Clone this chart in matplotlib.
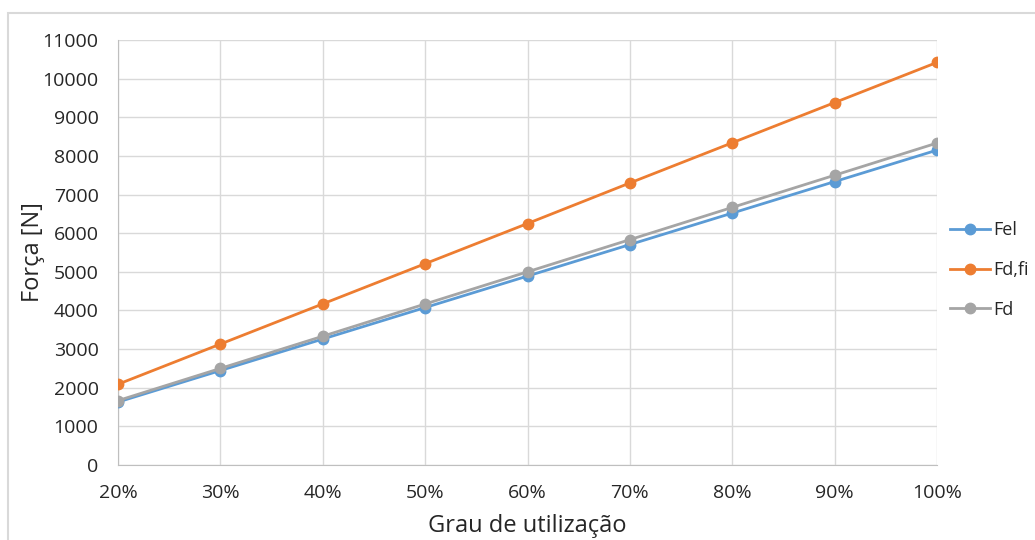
import matplotlib
matplotlib.use('Agg')
import matplotlib.pyplot as plt
from matplotlib.patches import Rectangle

# dados
grau = ['20%', '30%', '40%', '50%', '60%', '70%', '80%', '90%', '100%']
fel = [1630, 2445, 3260, 4075, 4890, 5705, 6520, 7335, 8150]
fd_fi = [2090, 3130, 4170, 5210, 6250, 7300, 8340, 9380, 10420]
fd = [1667, 2500, 3333, 4167, 5000, 5833, 6667, 7500, 8333]

plt.rcParams['font.family'] = ['Open Sans', 'DejaVu Sans']

fig = plt.figure(figsize=(10.35, 5.4), dpi=100)
ax = fig.add_axes([118 / 1035, 1 - 465 / 540, (937 - 118) / 1035, (465 - 40) / 540])

# moldura do grafico (estilo excel)
fig.patches.append(Rectangle((8 / 1035, -0.1), 1.1, 1 - 13 / 540 + 0.1, transform=fig.transFigure,
                             fill=False, edgecolor='#D9D9D9', linewidth=1.5, zorder=0))

x = list(range(len(grau)))
ax.plot(x, fel, color='#5B9BD5', marker='o', markersize=7.5, linewidth=2, label='Fel', zorder=3)
ax.plot(x, fd_fi, color='#ED7D31', marker='o', markersize=7.5, linewidth=2, label='Fd,fi', zorder=3)
ax.plot(x, fd, color='#A5A5A5', marker='o', markersize=7.5, linewidth=2, label='Fd', zorder=3)

ax.set_xlim(0, len(grau) - 1)
ax.set_ylim(0, 11000)
ax.set_yticks(range(0, 11001, 1000))
ax.set_xticks(x)
ax.set_xticklabels(grau)
ax.grid(True, color='#D9D9D9', linewidth=1)
ax.set_axisbelow(True)
ax.tick_params(length=0, labelsize=14, colors='#262626', pad=14)
for s in ['top', 'right']:
    ax.spines[s].set_visible(False)
for s in ['left', 'bottom']:
    ax.spines[s].set_color('#BFBFBF')

ax.set_xlabel('Grau de utilização', fontsize=17, color='#262626', va='top')
ax.set_ylabel('Força [N]', fontsize=17, color='#262626')
ax.xaxis.set_label_coords(0.5, -0.115)
ax.yaxis.set_label_coords(-0.089, 0.5)

fig.legend(loc='center left', bbox_to_anchor=(950 / 1035, 1 - 270 / 540), frameon=False,
           fontsize=13, handlelength=2.2, handletextpad=0.2, labelspacing=1.2,
           borderpad=0, borderaxespad=0, labelcolor='#262626')

fig.savefig('out.png', dpi=100)
